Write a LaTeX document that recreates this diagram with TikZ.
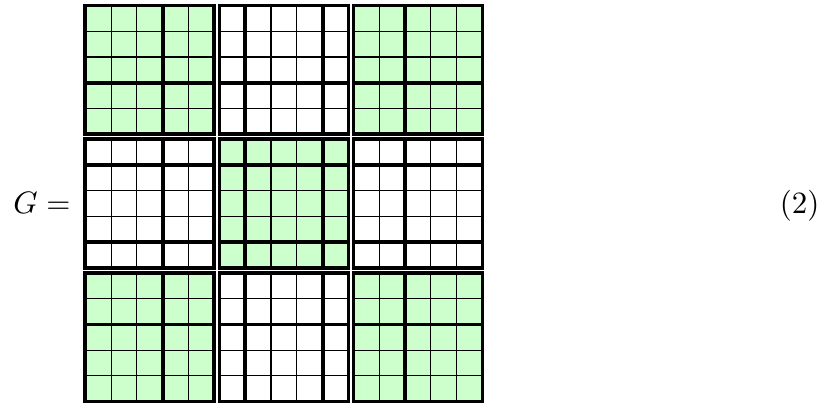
\documentclass[tikz,border=0pt]{standalone}
\definecolor{lgreen}{RGB}{204,255,204}
\tikzset{
  thinline/.style={line width=1.1pt, draw=black},
  thickline/.style={line width=3.8pt, draw=black, line cap=rect},
  blockborder/.style={line width=3.8pt, draw=black, line join=miter},
  bigtext/.style={inner sep=0pt, scale=3.1}
}
\begin{document}
\begin{tikzpicture}[x=1pt,y=-1pt]
\fill[white] (0,0) rectangle (827,403);
\useasboundingbox (0,0) rectangle (827,403);
\def\cx{25.8}
\def\cy{25.73}
\def\gp{5.1}
% blocks: fill and thin lines
\foreach \i in {0,1,2}{
  \foreach \j in {0,1,2}{
    \pgfmathsetmacro{\xa}{85.3+\i*(5*\cx+\gp)}
    \pgfmathsetmacro{\ya}{5.5+\j*(5*\cy+\gp)}
    \pgfmathsetmacro{\xb}{\xa+5*\cx}
    \pgfmathsetmacro{\yb}{\ya+5*\cy}
    \pgfmathtruncatemacro{\pp}{mod(\i+\j,2)}
    \ifnum\pp=0 \fill[lgreen] (\xa,\ya) rectangle (\xb,\yb); \fi
    \foreach \k in {1,...,4}{
      \draw[thinline] (\xa+\k*\cx,\ya) -- (\xa+\k*\cx,\yb);
      \draw[thinline] (\xa,\ya+\k*\cy) -- (\xb,\ya+\k*\cy);
    }
  }
}
% thick inner lines
\foreach \b/\k in {0/3,1/1,1/4,2/2}{
  \foreach \j in {0,1,2}{
    \pgfmathsetmacro{\xa}{85.3+\b*(5*\cx+\gp)+\k*\cx}
    \pgfmathsetmacro{\ya}{5.5+\j*(5*\cy+\gp)}
    \pgfmathsetmacro{\yb}{\ya+5*\cy}
    \draw[thickline] (\xa,\ya) -- (\xa,\yb);
    \pgfmathsetmacro{\yc}{5.5+\b*(5*\cy+\gp)+\k*\cy}
    \pgfmathsetmacro{\xc}{85.3+\j*(5*\cx+\gp)}
    \pgfmathsetmacro{\xd}{\xc+5*\cx}
    \draw[thickline] (\xc,\yc) -- (\xd,\yc);
  }
}
% block borders
\foreach \i in {0,1,2}{
  \foreach \j in {0,1,2}{
    \pgfmathsetmacro{\xa}{85.3+\i*(5*\cx+\gp)}
    \pgfmathsetmacro{\ya}{5.5+\j*(5*\cy+\gp)}
    \pgfmathsetmacro{\xb}{\xa+5*\cx}
    \pgfmathsetmacro{\yb}{\ya+5*\cy}
    \draw[blockborder] (\xa,\ya) rectangle (\xb,\yb);
  }
}
\node[bigtext, anchor=base east] (lhs) at (71,213.5) {$G =$};
\node[bigtext, anchor=base east] (eqno) at (820,213.5) {$(2)$};
\end{tikzpicture}
\end{document}
